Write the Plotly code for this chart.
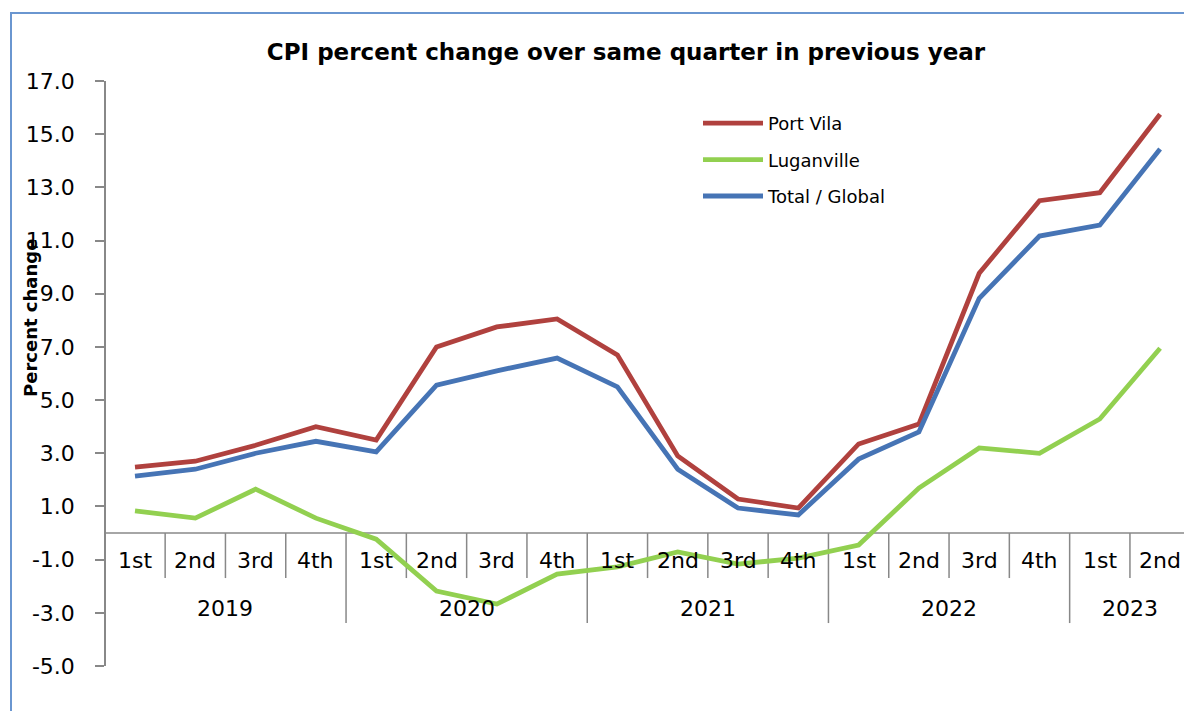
import plotly.graph_objects as go

# ---- data ----
years = ["2019", "2020", "2021", "2022", "2023"]
quarters = ["1st", "2nd", "3rd", "4th",
            "1st", "2nd", "3rd", "4th",
            "1st", "2nd", "3rd", "4th",
            "1st", "2nd", "3rd", "4th",
            "1st", "2nd"]
year_of_point = ["2019"] * 4 + ["2020"] * 4 + ["2021"] * 4 + ["2022"] * 4 + ["2023"] * 2

port_vila = [2.48, 2.70, 3.30, 4.00, 3.50, 7.00, 7.75, 8.05, 6.70,
             2.90, 1.28, 0.94, 3.35, 4.10, 9.77, 12.50, 12.80, 15.75]
luganville = [0.83, 0.56, 1.65, 0.56, -0.23, -2.18, -2.67, -1.54, -1.27,
              -0.71, -1.17, -0.94, -0.45, 1.69, 3.20, 3.00, 4.29, 6.95]
total_global = [2.14, 2.40, 3.00, 3.45, 3.05, 5.56, 6.10, 6.58, 5.50,
                2.40, 0.94, 0.68, 2.78, 3.80, 8.83, 11.17, 11.58, 14.44]

series_names = ["Port Vila", "Luganville", "Total / Global"]
series_colors = ["#B0413E", "#92D050", "#4674B5"]

y_tickvals = [17, 15, 13, 11, 9, 7, 5, 3, 1, -1, -3, -5]
y_ticktext = ["17.0", "15.0", "13.0", "11.0", "9.0", "7.0", "5.0",
              "3.0", "1.0", "-1.0", "-3.0", "-5.0"]

title_text = "CPI percent change over same quarter in previous year"
ytitle_text = "Percent change"

# ---- figure ----
W, H = 1184, 711
ML, MR, MT, MB = 106, 0, 81, 45
AXIS_GRAY = "#888888"
BORDER = "#6A96D0"
FONT = "DejaVu Sans"

pw, ph = W - ML - MR, H - MT - MB
CAT_W = 60.3
FIRST_C = 135  # px of first category centre


def px_x(p):
    return (p - ML) / pw


def px_y(p):
    return (H - MB - p) / ph


x_idx = list(range(len(quarters)))

fig = go.Figure()
for name, vals, col in zip(series_names, [port_vila, luganville, total_global], series_colors):
    fig.add_trace(go.Scatter(
        x=x_idx, y=vals, mode="lines", name=name, legendgroup=name,
        line=dict(color=col, width=4.8),
        hovertemplate="%{y:.1f}<extra>" + name + "</extra>",
    ))

shapes = []
annotations = []

# category axis line at y = 0
shapes.append(dict(type="line", xref="paper", yref="y", x0=0, x1=1, y0=0, y1=0,
                   line=dict(color=AXIS_GRAY, width=1.5), layer="below"))

# dividers between categories
for i in range(1, len(quarters)):
    new_year = year_of_point[i] != year_of_point[i - 1]
    shapes.append(dict(type="line", xref="x", yref="y", ysizemode="pixel", yanchor=0,
                       x0=i - 0.5, x1=i - 0.5, y0=0, y1=-90 if new_year else -45,
                       line=dict(color=AXIS_GRAY, width=1.5), layer="below"))

# quarter labels
for i, q in enumerate(quarters):
    annotations.append(dict(x=i, y=0, xref="x", yref="y", text=q, showarrow=False,
                            yanchor="middle", yshift=-27,
                            font=dict(family=FONT, size=22, color="#000000")))

# year labels
for yv in years:
    idx = [i for i, yy in enumerate(year_of_point) if yy == yv]
    xc = sum(idx) / len(idx)
    annotations.append(dict(x=xc, y=0, xref="x", yref="y", text=yv, showarrow=False,
                            yanchor="middle", yshift=-75,
                            font=dict(family=FONT, size=22, color="#000000")))

# y axis title (overlapping tick labels like the original)
annotations.append(dict(x=px_x(30), y=px_y(318),
                        xref="paper", yref="paper", text="<b>" + ytitle_text + "</b>",
                        textangle=-90, showarrow=False, xanchor="center", yanchor="middle",
                        font=dict(family=FONT, size=18, color="#000000")))

# outer chart border: only left and top edges are visible in the original
shapes.append(dict(type="line", xref="paper", yref="paper",
                   x0=px_x(11), x1=px_x(11), y0=px_y(H + 5), y1=px_y(12),
                   line=dict(color=BORDER, width=2), layer="below"))
shapes.append(dict(type="line", xref="paper", yref="paper",
                   x0=px_x(10), x1=px_x(W), y0=px_y(13), y1=px_y(13),
                   line=dict(color=BORDER, width=2), layer="below"))

x_lo = (ML - FIRST_C) / CAT_W
x_hi = (W - MR - FIRST_C) / CAT_W

fig.update_layout(
    width=W, height=H,
    margin=dict(l=ML, r=MR, t=MT, b=MB, pad=0),
    paper_bgcolor="white", plot_bgcolor="white",
    font=dict(family=FONT, color="#000000"),
    title=dict(text="<b>" + title_text + "</b>",
               x=px_x(626), xref="paper", xanchor="center",
               y=1 - 52 / H, yref="container", yanchor="middle",
               font=dict(family=FONT, size=23, color="#000000")),
    xaxis=dict(visible=False, range=[x_lo, x_hi], fixedrange=True),
    yaxis=dict(range=[-5, 17], tickvals=y_tickvals, ticktext=y_ticktext,
               showgrid=False, zeroline=False, showline=True,
               linecolor=AXIS_GRAY, linewidth=1.5,
               ticks="outside", ticklen=9, tickwidth=1.5, tickcolor=AXIS_GRAY,
               ticklabelstandoff=16,
               tickfont=dict(family=FONT, size=22, color="#000000")),
    legend=dict(x=px_x(698), xanchor="left",
                y=px_y(105), yanchor="top",
                font=dict(family=FONT, size=18, color="#000000"),
                itemwidth=60,
                bgcolor="rgba(0,0,0,0)", tracegroupgap=10, traceorder="grouped"),
    shapes=shapes,
    annotations=annotations,
    showlegend=True,
)

fig.write_html(
    "out.html",
    config={"displayModeBar": False},
    post_script="document.body.style.margin='0';document.body.style.overflow='hidden';",
)
